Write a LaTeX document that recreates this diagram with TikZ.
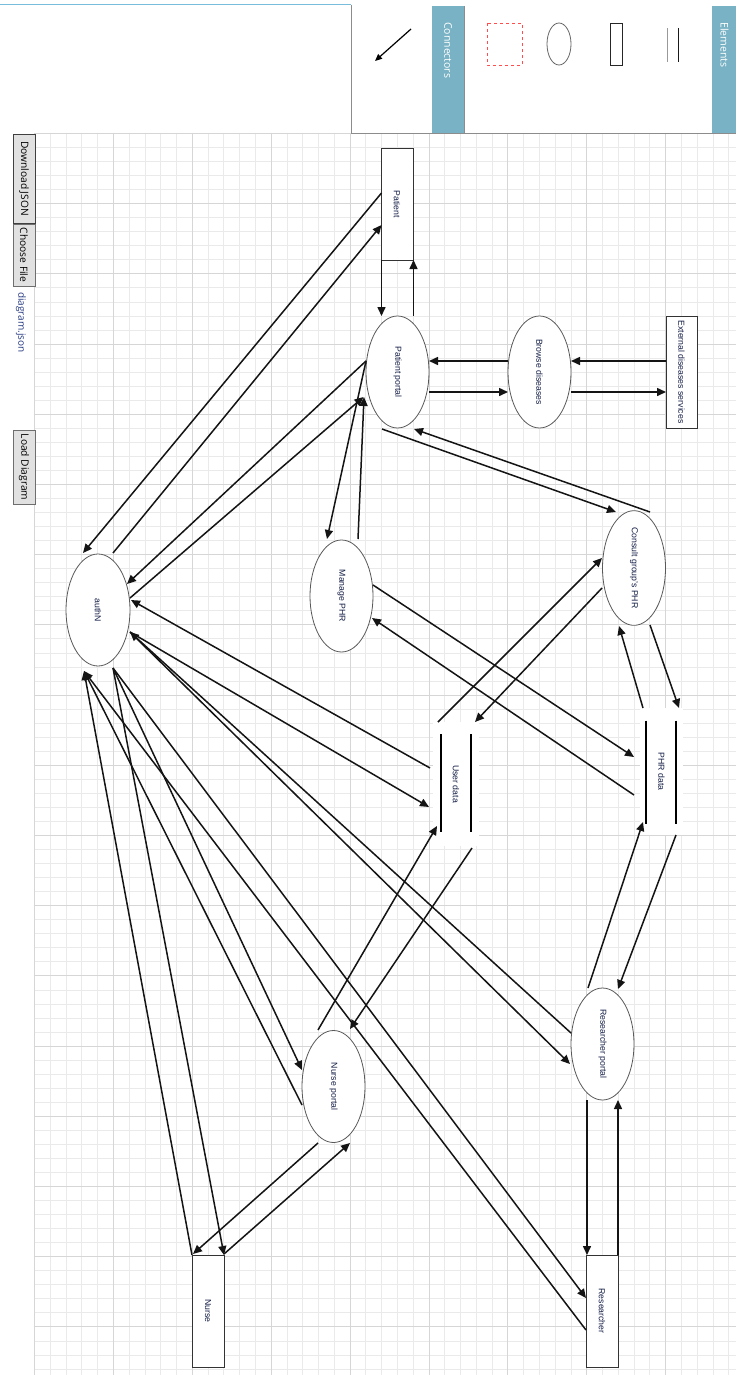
\documentclass[tikz,border=0pt]{standalone}
\usepackage{fontspec}
\usepackage{graphicx}
\setmainfont{Liberation Sans}
\newfontfamily\uifont{Open Sans}
\usetikzlibrary{arrows.meta,shapes.geometric,calc}
\definecolor{tabteal}{RGB}{120,178,196}
\definecolor{gridmin}{RGB}{234,234,234}
\definecolor{gridmaj}{RGB}{214,214,214}
\definecolor{labc}{RGB}{20,30,70}
\definecolor{topblue}{RGB}{120,190,220}
\definecolor{btnfill}{RGB}{225,225,225}
\definecolor{btnline}{RGB}{110,110,110}
\definecolor{filec}{RGB}{40,60,130}
\newcommand{\vtext}[1]{\rotatebox{-90}{#1}}
\begin{document}
\begin{tikzpicture}[x=1pt,y=-1pt,
  conn/.style={draw=black!92, line width=1.5pt, -{Triangle[length=9pt,width=8pt]}},
  proc/.style={ellipse, draw=black!65, line width=0.8pt, fill=white, minimum width=63pt, minimum height=112pt, inner sep=0pt, font=\fontsize{8.7}{10}\selectfont, text=labc},
  ent/.style={rectangle, draw=black!80, line width=0.8pt, fill=white, minimum width=32pt, minimum height=112pt, inner sep=0pt, font=\fontsize{8.7}{10}\selectfont, text=labc},
  store/.style={rectangle, fill=white, inner sep=0pt, font=\fontsize{8.7}{10}\selectfont, text=labc},
  storeline/.style={draw=black, line width=1.6pt},
  btn/.style={rectangle, draw=btnline, fill=btnfill, line width=0.8pt, minimum width=22pt, inner sep=0pt, font=\uifont\fontsize{10.2}{12}\selectfont, text=black},
  tabtext/.style={inner sep=0pt, anchor=north, font=\uifont\fontsize{10.5}{12}\selectfont, text=white}
]
\useasboundingbox (0,0) rectangle (736,1375);
\fill[white] (0,0) rectangle (736,1375);
% grid
\foreach \i in {0,...,44} {\pgfmathsetmacro\xx{34.5+15.78*\i}\draw[gridmin, line width=0.9pt] (\xx,133) -- (\xx,1375);}
\foreach \j in {0,...,88} {\pgfmathsetmacro\yy{133.5+14.04*\j}\draw[gridmin, line width=0.9pt] (34.5,\yy) -- (736,\yy);}
\foreach \i in {0,...,8} {\pgfmathsetmacro\xx{34.5+78.9*\i}\draw[gridmaj, line width=1pt] (\xx,133) -- (\xx,1375);}
\foreach \j in {0,...,17} {\pgfmathsetmacro\yy{133.5+70.2*\j}\draw[gridmaj, line width=1pt] (34.5,\yy) -- (736,\yy);}
% top bar
\draw[topblue, line width=1pt] (0,5) -- (351,5);
\fill[white] (351,5) rectangle (736,133);
\draw[black!45, line width=1pt] (351.5,5) -- (351.5,133.5) -- (736,133.5);
\fill[tabteal] (432,6) rectangle (464,133);
\fill[tabteal] (712,6) rectangle (736,133);
\draw[black!45, line width=0.8pt] (464,6) -- (464,133);
\node[tabtext] (tabconn) at (448,22) {\vtext{Connectors}};
\node[tabtext] (tabelem) at (724.5,22) {\vtext{Elements}};
\draw[line width=1.2pt, -{Triangle[length=7pt,width=6pt]}] (411,29) -- (375,61);
\draw[red!70, dashed, line width=0.8pt] (487,23) rectangle (522,65);
\draw[black!60, line width=0.8pt] (559,44) ellipse [x radius=12, y radius=21];
\draw[black!85, line width=0.9pt] (610,23) rectangle (622,65);
\draw[black!40, line width=1pt] (667,28) -- (667,62);
\draw[black!90, line width=1pt] (678,28) -- (678,62);
% left buttons
\node[btn, minimum height=89pt, draw=black!75] (dl) at (24,178.5) {\vtext{Download JSON}};
\node[btn, minimum height=62pt] (cf) at (24,255) {\vtext{Choose File}};
\node[inner sep=0pt, anchor=north, font=\uifont\fontsize{10}{12}\selectfont, text=filec] (fn) at (21,292) {\vtext{diagram.json}};
\node[btn, minimum height=74pt] (ld) at (24,467) {\vtext{Load Diagram}};
% nodes
\node[ent] (pat) at (397,204) {\vtext{Patient}};
\node[proc] (pp) at (397.5,372) {\vtext{Patient portal}};
\node[proc] (bd) at (539.5,372) {\vtext{Browse diseases}};
\node[ent, minimum width=31pt] (ext) at (681.5,372) {\vtext{External diseases services}};
\node[proc, minimum width=64pt] (auth) at (98,610) {\vtext{authN}};
\node[proc] (mphr) at (341.5,596) {\vtext{Manage PHR}};
\node[proc] (cg) at (634,568) {\vtext{Consult group's PHR}};
\node[store, minimum width=46pt, minimum height=124pt] (ud) at (456,784) {\vtext{User data}};
\node[store, minimum width=43pt, minimum height=127pt] (phr) at (661.5,771.5) {\vtext{PHR data}};
\node[proc] (rp) at (602.5,1044) {\vtext{Researcher portal}};
\node[proc] (np) at (333.5,1086.5) {\vtext{Nurse portal}};
\node[ent] (nurse) at (208,1311) {\vtext{Nurse}};
\node[ent] (res) at (602,1311) {\vtext{Researcher}};
% data store lines
\draw[storeline] ($(ud)+(-15,-50)$) -- ($(ud)+(-15,48)$);
\draw[storeline] ($(ud)+(15,-50)$) -- ($(ud)+(15,48)$);
\draw[storeline] ($(phr)+(-15.5,-51)$) -- ($(phr)+(-15.5,52)$);
\draw[storeline] ($(phr)+(14.5,-51)$) -- ($(phr)+(14.5,52)$);
% connectors
\draw[conn] ($(pat)+(-15.5,56)$) -- ($(pp)+(-16,-56)$);
\draw[conn] ($(pp)+(16,-56)$) -- ($(pat)+(16.5,56)$);
\draw[conn] ($(bd)+(-31.5,-11)$) -- ($(pp)+(31.5,-11)$);
\draw[conn] ($(pp)+(31.5,20)$) -- ($(bd)+(-31.5,20)$);
\draw[conn] ($(ext)+(-15.5,-11)$) -- ($(bd)+(31.5,-11)$);
\draw[conn] ($(bd)+(31.5,20)$) -- ($(ext)+(-15.5,20)$);
\draw[conn] ($(pat)+(-15.5,-11)$) -- ($(auth)+(-15,-57)$);
\draw[conn] ($(auth)+(15,-57)$) -- ($(pat)+(-15.5,21)$);
\draw[conn] ($(pp)+(-31.5,-11)$) -- ($(auth)+(29,-26)$);
\draw[conn] ($(auth)+(32,-12)$) -- ($(pp)+(-34,25)$);
\draw[conn] ($(pp)+(-31.5,-11)$) -- ($(mphr)+(-14.5,-57)$);
\draw[conn] ($(mphr)+(16.5,-57)$) -- ($(pp)+(-33.5,25)$);
\draw[conn] ($(pp)+(-15.5,57)$) -- ($(cg)+(-18,-56)$);
\draw[conn] ($(cg)+(16,-56)$) -- ($(pp)+(16.5,57)$);
\draw[conn] ($(cg)+(-32,20)$) -- ($(ud)+(19,-62)$);
\draw[conn] ($(ud)+(-18,-62)$) -- ($(cg)+(-32,-10)$);
\draw[conn] ($(cg)+(16,57)$) -- ($(phr)+(17.5,-63.5)$);
\draw[conn] ($(phr)+(-18.5,-63.5)$) -- ($(cg)+(-15,58)$);
\draw[conn] ($(mphr)+(31.5,-11)$) -- ($(phr)+(-27.5,-14.5)$);
\draw[conn] ($(phr)+(-27.5,23.5)$) -- ($(mphr)+(30.5,22)$);
\draw[conn] ($(ud)+(-26,-16)$) -- ($(auth)+(33,-10)$);
\draw[conn] ($(auth)+(32,22)$) -- ($(ud)+(-27,23)$);
\draw[conn] ($(rp)+(-31.5,-11)$) -- ($(auth)+(32,22)$);
\draw[conn] ($(auth)+(32,22)$) -- ($(rp)+(-32.5,20)$);
\draw[conn] ($(auth)+(15,58)$) -- ($(np)+(-31.5,-16.5)$);
\draw[conn] ($(np)+(-31.5,18.5)$) -- ($(auth)+(-14,61)$);
\draw[conn] ($(auth)+(15,58)$) -- ($(nurse)+(16,-56)$);
\draw[conn] ($(nurse)+(-16,-56)$) -- ($(auth)+(-14,61)$);
\draw[conn] ($(auth)+(15,58)$) -- ($(res)+(-16,-13)$);
\draw[conn] ($(res)+(-16,19)$) -- ($(auth)+(-14,61)$);
\draw[conn] ($(np)+(-15.5,-56.5)$) -- ($(ud)+(-19,42)$);
\draw[conn] ($(ud)+(16,64)$) -- ($(np)+(16.5,-57.5)$);
\draw[conn] ($(rp)+(-14.5,-56)$) -- ($(phr)+(-18.5,50.5)$);
\draw[conn] ($(phr)+(14.5,63.5)$) -- ($(rp)+(15.5,-55)$);
\draw[conn] ($(rp)+(-15.5,56)$) -- ($(res)+(-15,-56)$);
\draw[conn] ($(res)+(16,-56)$) -- ($(rp)+(15.5,56)$);
\draw[conn] ($(np)+(-15.5,56.5)$) -- ($(nurse)+(-15,-57)$);
\draw[conn] ($(nurse)+(16,-57)$) -- ($(np)+(16.5,56.5)$);
\end{tikzpicture}
\end{document}
